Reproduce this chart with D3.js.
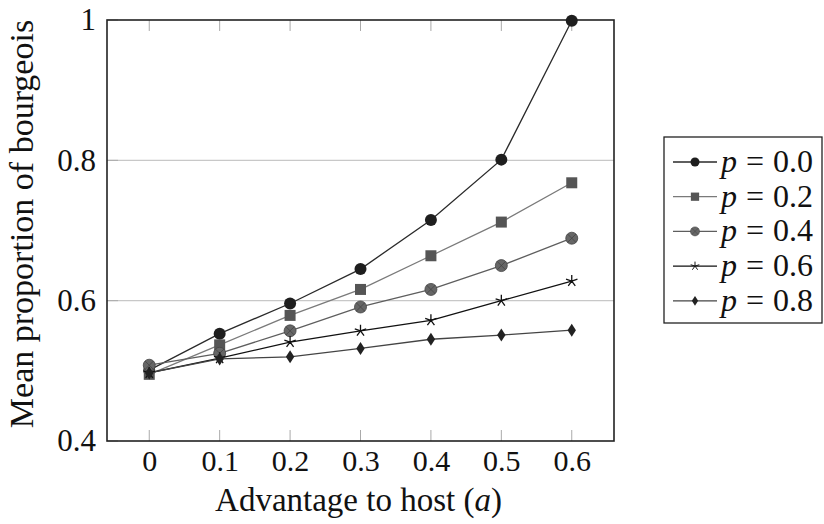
<!DOCTYPE html>
<html lang="en">
    <head>
        <meta charset="utf-8">
        <title>Mean proportion of bourgeois</title>
        <style>
            body { margin: 0; background: white; }
            svg { display: block; }
            text { font-family: "Liberation Serif", "DejaVu Serif", serif; fill: #111; }
        </style>
    </head>
    <body>
        <svg width="824" height="524"></svg>
        <script src="https://d3js.org/d3.v7.min.js"></script>
        <script>
            // x values (advantage to host) and tick labels
            var advantage = [0, 0.1, 0.2, 0.3, 0.4, 0.5, 0.6];
            var xTicks = [0, 0.1, 0.2, 0.3, 0.4, 0.5, 0.6];
            var yTicks = [0.4, 0.6, 0.8, 1];

            // one series per p
            var pLabels = ["0.0", "0.2", "0.4", "0.6", "0.8"];
            var p00 = [0.501, 0.553, 0.596, 0.645, 0.715, 0.801, 0.999];
            var p02 = [0.495, 0.537, 0.579, 0.616, 0.664, 0.712, 0.768];
            var p04 = [0.508, 0.525, 0.557, 0.591, 0.616, 0.650, 0.689];
            var p06 = [0.497, 0.518, 0.541, 0.557, 0.572, 0.600, 0.628];
            var p08 = [0.497, 0.517, 0.520, 0.532, 0.545, 0.551, 0.558];

            var series = [
                {label: pLabels[0], values: p00, mark: "circle",  fill: "#1e1e1e", line: "#2a2a2a"},
                {label: pLabels[1], values: p02, mark: "square",  fill: "#555555", line: "#7a7a7a"},
                {label: pLabels[2], values: p04, mark: "otimes",  fill: "#666666", line: "#5e5e5e"},
                {label: pLabels[3], values: p06, mark: "star",    fill: "#111111", line: "#111111"},
                {label: pLabels[4], values: p08, mark: "diamond", fill: "#222222", line: "#444444"}
            ];

            var svg = d3.select("svg"),
                margin = {top: 20, right: 210, bottom: 83, left: 107},
                width = +svg.attr("width") - margin.left - margin.right,
                height = +svg.attr("height") - margin.top - margin.bottom,
                g = svg.append("g").attr("transform", "translate(" + margin.left + "," + margin.top + ")");

            var x = d3.scaleLinear().domain([-0.06, 0.66]).range([0, width]);
            var y = d3.scaleLinear().domain([0.4, 1]).range([height, 0]);

            // grid lines
            g.selectAll(".grid").data([0.6, 0.8]).enter()
              .append("line")
                .attr("x1", 0).attr("x2", width)
                .attr("y1", function(d){ return y(d) }).attr("y2", function(d){ return y(d) })
                .style("stroke", "#c8c8c8").style("stroke-width", 1.2);

            // ticks (inside, gray)
            var tickLen = 11;
            g.selectAll(".xtb").data(xTicks).enter().append("line")
                .attr("x1", function(d){ return x(d) }).attr("x2", function(d){ return x(d) })
                .attr("y1", height).attr("y2", height - tickLen)
                .style("stroke", "#aaa").style("stroke-width", 1);
            g.selectAll(".xtt").data(xTicks).enter().append("line")
                .attr("x1", function(d){ return x(d) }).attr("x2", function(d){ return x(d) })
                .attr("y1", 0).attr("y2", tickLen)
                .style("stroke", "#aaa").style("stroke-width", 1);
            g.selectAll(".ytl").data(yTicks).enter().append("line")
                .attr("x1", 0).attr("x2", tickLen)
                .attr("y1", function(d){ return y(d) }).attr("y2", function(d){ return y(d) })
                .style("stroke", "#aaa").style("stroke-width", 1);

            // axes labels via d3 axes (no lines)
            var xAxis = g.append("g")
                .attr("transform", "translate(0," + height + ")")
                .call(d3.axisBottom(x).tickValues(xTicks).tickSize(0).tickPadding(9)
                    .tickFormat(function(d){ return d === 0 ? "0" : d3.format(".1f")(d) }));
            xAxis.select(".domain").remove();
            xAxis.selectAll("text").style("font-size", "30px")
                .style("font-family", "'Liberation Serif', serif").attr("fill", "#111");

            var yAxis = g.append("g")
                .call(d3.axisLeft(y).tickValues(yTicks).tickSize(0).tickPadding(11)
                    .tickFormat(function(d){ return d === 1 ? "1" : d3.format(".1f")(d) }));
            yAxis.select(".domain").remove();
            yAxis.selectAll("text").style("font-size", "31px")
                .style("font-family", "'Liberation Serif', serif").attr("fill", "#111");

            // frame
            g.append("rect")
                .attr("width", width).attr("height", height)
                .style("fill", "none").style("stroke", "#222").style("stroke-width", 1.6);

            // marker drawing
            function drawMark(sel, s, cx, cy, k) {
                var m = sel.append("g").attr("transform", "translate(" + cx + "," + cy + ")scale(" + k + ")");
                if (s.mark === "circle") {
                    m.append("circle").attr("r", 6).style("fill", s.fill);
                } else if (s.mark === "square") {
                    m.append("rect").attr("x", -5.5).attr("y", -5.5).attr("width", 11).attr("height", 11)
                        .style("fill", s.fill);
                } else if (s.mark === "otimes") {
                    m.append("circle").attr("r", 6).style("fill", s.fill).style("stroke", "#444").style("stroke-width", 0.8);
                    m.append("path").attr("d", "M-4.2,-4.2L4.2,4.2M-4.2,4.2L4.2,-4.2")
                        .style("stroke", "#444").style("stroke-width", 0.8);
                } else if (s.mark === "star") {
                    var d = "";
                    for (var j = 0; j < 5; j++) {
                        var a = -Math.PI / 2 + j * 2 * Math.PI / 5;
                        d += "M0,0L" + (6 * Math.cos(a)).toFixed(2) + "," + (6 * Math.sin(a)).toFixed(2);
                    }
                    m.append("path").attr("d", d).style("stroke", s.fill).style("stroke-width", 1.3).style("fill", "none");
                } else if (s.mark === "diamond") {
                    m.append("path").attr("d", "M0,-6.5L4.2,0L0,6.5L-4.2,0Z").style("fill", s.fill);
                }
            }

            var line = d3.line()
                .x(function(d, i){ return x(advantage[i]) })
                .y(function(d){ return y(d) });

            series.forEach(function(s) {
                g.append("path")
                    .attr("d", line(s.values))
                    .style("fill", "none").style("stroke", s.line).style("stroke-width", 1.3);
            });
            series.forEach(function(s) {
                s.values.forEach(function(v, i) {
                    drawMark(g, s, x(advantage[i]), y(v), 1);
                });
            });

            // axis titles
            svg.append("text")
                .attr("x", margin.left + width / 2 - 2).attr("y", 511)
                .attr("text-anchor", "middle").style("font-size", "33px")
                .html("Advantage to host (<tspan font-style='italic'>a</tspan>)");
            svg.append("text")
                .attr("transform", "translate(33," + 224 + ")rotate(-90)")
                .attr("text-anchor", "middle").style("font-size", "34px")
                .text("Mean proportion of bourgeois");

            // legend
            var legend = svg.append("g").attr("transform", "translate(664,137)");
            legend.append("rect").attr("width", 158).attr("height", 186)
                .style("fill", "white").style("stroke", "#222").style("stroke-width", 1.3);
            series.forEach(function(s, i) {
                var cy = 25 + i * 34.7;
                legend.append("line").attr("x1", 9).attr("x2", 53).attr("y1", cy).attr("y2", cy)
                    .style("stroke", s.line).style("stroke-width", 1.3);
                drawMark(legend, s, 31, cy, 0.75);
                legend.append("text").attr("x", 57).attr("y", cy + 10)
                    .style("font-size", "32px")
                    .html("<tspan font-style='italic'>p</tspan><tspan dx='9'>=</tspan><tspan dx='9'>" + s.label + "</tspan>");
            });
        </script>
    </body>
</html>
